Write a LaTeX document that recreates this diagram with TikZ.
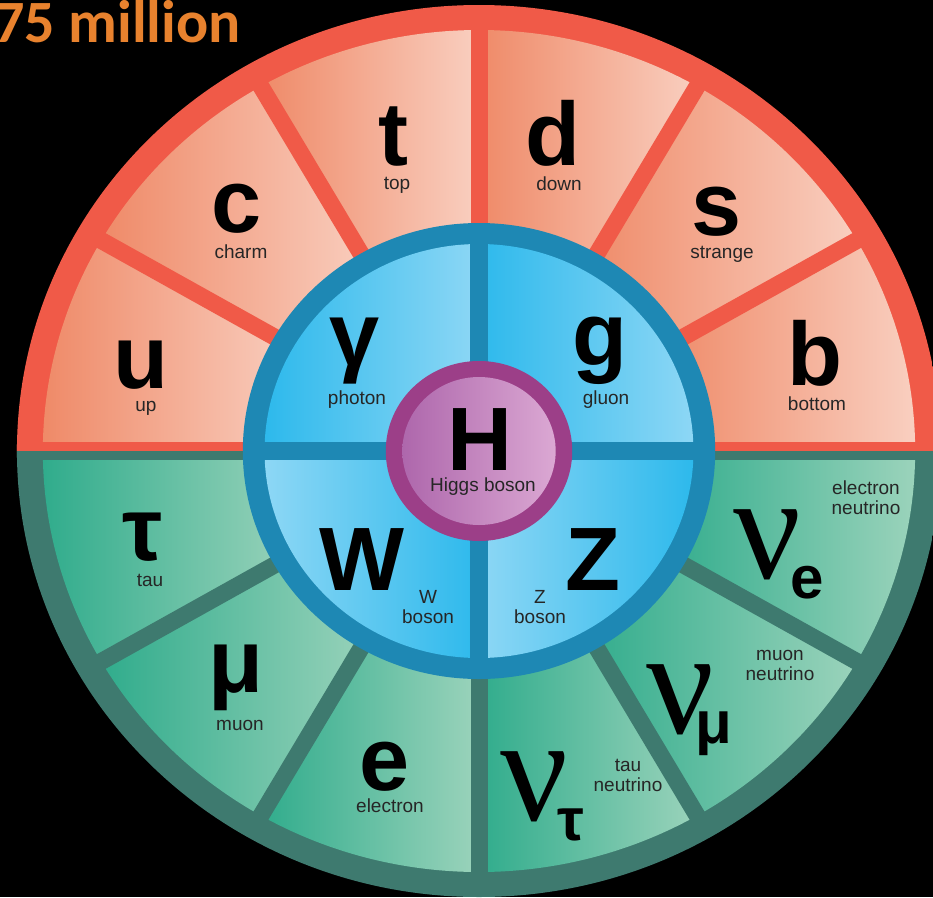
\documentclass[tikz,border=0pt]{standalone}
\usepackage{fontspec}
\setmainfont{Liberation Sans}
\newfontfamily\nufont{Liberation Serif}
\newfontfamily\headfont{Carlito}
\usetikzlibrary{positioning}
\definecolor{wheelRed}{HTML}{F05A48}
\definecolor{wheelTeal}{HTML}{3E7A6F}
\definecolor{quarkDark}{HTML}{EF8A68}
\definecolor{quarkLight}{HTML}{F9CFC0}
\definecolor{leptonDark}{HTML}{30AC8C}
\definecolor{leptonLight}{HTML}{9BD3BB}
\definecolor{bosonRing}{HTML}{1E88B4}
\definecolor{bosonCyan}{HTML}{2DB9EC}
\definecolor{bosonLight}{HTML}{8DD7F5}
\definecolor{higgsRing}{HTML}{9C3F88}
\definecolor{higgsDark}{HTML}{AE67AC}
\definecolor{higgsLight}{HTML}{DBA8D3}
\definecolor{titleOrange}{HTML}{E8822E}
% neutrino symbol with its subscript: kern, drop, flavour
\newcommand{\nuflavour}[3]{{\nufont\fontsize{150}{150}\selectfont ν}\kern#1\raisebox{-#2}{\fontsize{60}{60}\selectfont\bfseries #3}}
\tikzset{
  % big particle symbols
  symbol/.style={
    font=\fontsize{90}{90}\selectfont\bfseries,
    text=black,
    inner sep=0pt,
    text depth=0pt,
    anchor=base
  },
  nusym/.style={
    text=black,
    inner sep=0pt,
    anchor=base west
  },
  % particle names
  tag/.style={
    font=\fontsize{19}{20}\selectfont,
    text=black!85,
    align=center,
    inner sep=0pt
  },
  quarkcell/.style={left color=quarkDark, right color=quarkLight},
  leptoncell/.style={left color=leptonDark, right color=leptonLight},
  spoke/.style={line width=17pt},
  headline/.style={
    font=\headfont\bfseries\fontsize{60}{60}\selectfont,
    text=titleOrange,
    inner sep=0pt
  }
}

\begin{document}
\begin{tikzpicture}[x=1pt,y=-1pt]

\clip (0,0) rectangle (933,897);
\fill[black] (0,0) rectangle (933,897);

\begin{scope}[shift={(479,451)}, yscale=-1, xscale=1.036]
  \clip (0,0) circle (446);
  \fill[wheelRed] (0,0) -- (0:450) arc[start angle=0, end angle=180, radius=450] -- cycle;
  \fill[wheelTeal] (0,0) -- (180:450) arc[start angle=180, end angle=360, radius=450] -- cycle;
  % outer cells
  \foreach \a in {0,30,...,150} {
    \pgfmathsetmacro{\b}{\a+30}
    \shade[quarkcell] (\a:200) -- (\a:421) arc[start angle=\a, end angle=\b, radius=421]
      -- (\b:200) arc[start angle=\b, end angle=\a, radius=200] -- cycle;
  }
  \foreach \a in {180,210,...,330} {
    \pgfmathsetmacro{\b}{\a+30}
    \shade[leptoncell] (\a:200) -- (\a:421) arc[start angle=\a, end angle=\b, radius=421]
      -- (\b:200) arc[start angle=\b, end angle=\a, radius=200] -- cycle;
  }
  \foreach \a in {30,60,...,150}
    \draw[spoke, wheelRed] (0,0) -- (\a:430);
  \foreach \a in {210,240,...,330}
    \draw[spoke, wheelTeal] (0,0) -- (\a:430);
  \fill[wheelRed] (-450,0) rectangle (450,9);
  \fill[wheelTeal] (-450,-9) rectangle (450,0);
  % boson ring
  \fill[bosonRing] (0,0) circle (228);
  \shade[left color=bosonCyan, right color=bosonLight] (0,0) -- (90:207) arc[start angle=90, end angle=180, radius=207] -- cycle;
  \shade[left color=bosonCyan, right color=bosonLight] (0,0) -- (0:207) arc[start angle=0, end angle=90, radius=207] -- cycle;
  \shade[left color=bosonLight, right color=bosonCyan] (0,0) -- (180:207) arc[start angle=180, end angle=270, radius=207] -- cycle;
  \shade[left color=bosonLight, right color=bosonCyan] (0,0) -- (270:207) arc[start angle=270, end angle=360, radius=207] -- cycle;
  \draw[line width=18pt, bosonRing] (180:215) -- (0:215);
  \draw[line width=18pt, bosonRing] (90:215) -- (270:215);
  % higgs
  \fill[higgsRing] (0,0) circle (90);
  \shade[left color=higgsDark, right color=higgsLight] (0,0) circle (74);
\end{scope}

\node[headline, anchor=base east] (title) at (241,42) {75 million};

% quarks
\node[symbol] (u) at (141,388) {u};
\node[tag] (uName) at (146,408) {up};
\node[symbol] (c) at (237,232) {c};
\node[tag] (cName) at (241,252) {charm};
\node[symbol] (t) at (393,165) {t};
\node[tag] (tName) at (397,185) {top};
\node[symbol] (d) at (553,165) {d};
\node[tag] (dName) at (559,184) {down};
\node[symbol] (s) at (717,235) {s};
\node[tag] (sName) at (722,254) {strange};
\node[symbol] (b) at (815,385) {b};
\node[tag] (bName) at (817,404) {bottom};

% bosons
\node[symbol, text depth=18pt] (gamma) at (355,365) {γ};
\node[tag] (gammaName) at (357,400) {photon};
\node[symbol, text depth=18pt] (g) at (600,365) {g};
\node[tag] (gName) at (606,400) {gluon};
\node[symbol] (H) at (480,470) {H};
\node[tag] (HName) at (483,487) {Higgs boson};
\node[symbol] (W) at (362,590) {W};
\node[tag] (WName) at (428,607) {W\\boson};
\node[symbol] (Z) at (593,590) {Z};
\node[tag] (ZName) at (540,607) {Z\\boson};

% leptons
\node[symbol] (tau) at (143,560) {τ};
\node[tag] (tauName) at (150,580) {tau};
\node[symbol, text depth=18pt] (mu) at (236,692) {μ};
\node[tag] (muName) at (240,725) {muon};
\node[symbol] (e) at (385,790) {e};
\node[tag] (eName) at (390,806) {electron};
\node[nusym] (nutau) at (500,820) {\nuflavour{-11pt}{20pt}{τ}};
\node[tag] (nutauName) at (628,775) {tau\\neutrino};
\node[nusym] (numu) at (646,733) {\nuflavour{-19pt}{10pt}{μ}};
\node[tag] (numuName) at (780,665) {muon\\neutrino};
\node[nusym] (nue) at (733,578) {\nuflavour{-11pt}{20pt}{e}};
\node[tag] (nueName) at (866,498) {electron\\neutrino};

\end{tikzpicture}
\end{document}
